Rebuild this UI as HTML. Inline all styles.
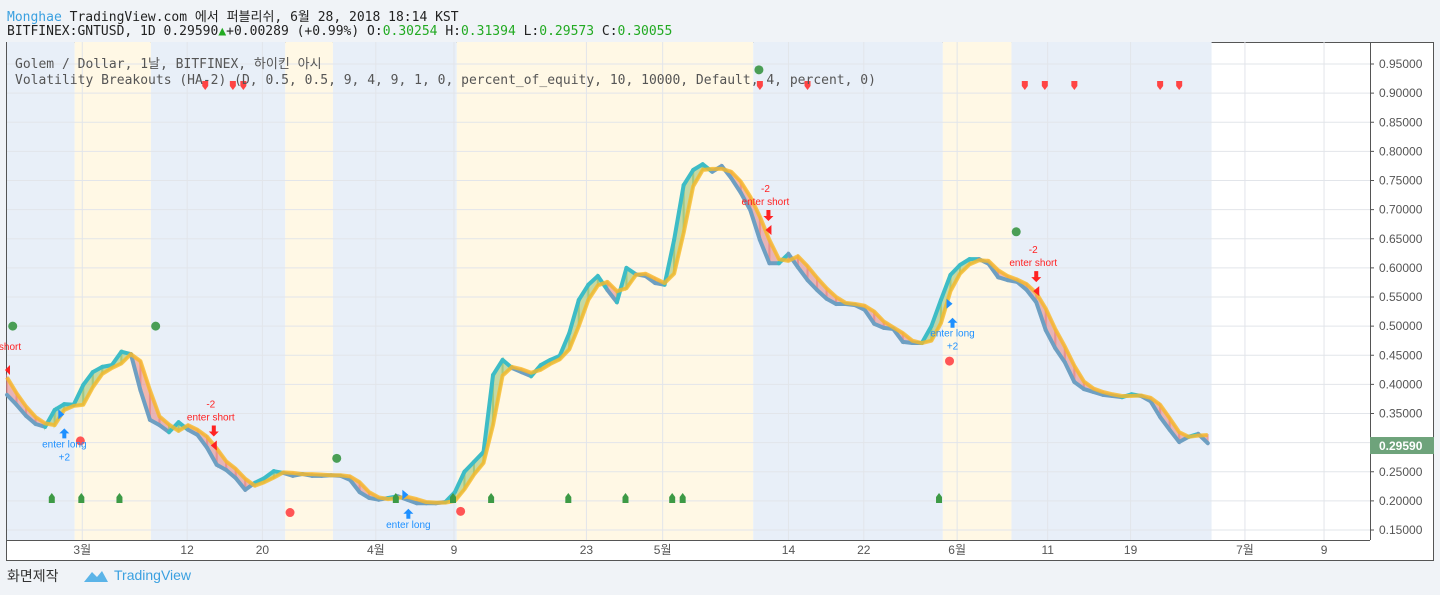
<!DOCTYPE html>
<html><head><meta charset="utf-8"><style>
html,body{margin:0;padding:0;background:#f0f3f7;width:1440px;height:595px;overflow:hidden}
.hdr{position:absolute;left:7px;font-family:"DejaVu Sans Mono","Liberation Mono","Noto Sans CJK KR",monospace;font-size:13px;color:#222;white-space:nowrap}
</style></head><body>
<div class="hdr" style="top:6px"><span style="color:#3aa0e0">Monghae</span> TradingView.com 에서 퍼블리쉬, 6월 28, 2018 18:14 KST</div>
<div class="hdr" style="top:24px">BITFINEX:GNTUSD, 1D 0.29590<span style="color:#2a2">▲</span>+0.00289 (+0.99%) O:<span style="color:#2a2">0.30254</span> H:<span style="color:#2a2">0.31394</span> L:<span style="color:#2a2">0.29573</span> C:<span style="color:#2a2">0.30055</span></div>
<svg id="c" width="1440" height="595" style="position:absolute;left:0;top:0"></svg>
<div style="position:absolute;left:7px;top:566px;font-family:'Liberation Sans','Noto Sans CJK KR',sans-serif;font-size:14px;color:#333">화면제작</div>
<svg style="position:absolute;left:83px;top:568px" width="26" height="16"><path d="M1 14 L9 4 L14 9 L19 3 L25 14 Z" fill="#5bb4e8"/></svg>
<div style="position:absolute;left:114px;top:567px;font-family:'Liberation Sans',sans-serif;font-size:14px;color:#3aa0e0">TradingView</div>
<script>
const fast=[0.382,0.365,0.346,0.332,0.327,0.356,0.366,0.365,0.399,0.421,0.430,0.433,0.456,0.452,0.390,0.339,0.330,0.318,0.335,0.322,0.313,0.291,0.262,0.253,0.239,0.219,0.231,0.239,0.251,0.248,0.243,0.246,0.243,0.243,0.244,0.243,0.236,0.215,0.205,0.202,0.205,0.208,0.202,0.196,0.196,0.196,0.198,0.215,0.250,0.267,0.284,0.416,0.442,0.428,0.421,0.414,0.433,0.442,0.449,0.488,0.545,0.571,0.586,0.562,0.541,0.600,0.589,0.586,0.574,0.571,0.648,0.742,0.768,0.778,0.765,0.775,0.754,0.729,0.699,0.648,0.608,0.608,0.624,0.601,0.579,0.562,0.547,0.538,0.538,0.536,0.528,0.504,0.497,0.495,0.473,0.471,0.471,0.500,0.545,0.588,0.605,0.615,0.615,0.607,0.584,0.579,0.576,0.562,0.541,0.493,0.462,0.438,0.404,0.392,0.387,0.382,0.380,0.378,0.383,0.380,0.371,0.344,0.322,0.301,0.310,0.315,0.299];
const slow=[0.412,0.385,0.362,0.344,0.333,0.330,0.356,0.363,0.365,0.395,0.418,0.428,0.436,0.452,0.440,0.390,0.345,0.331,0.320,0.330,0.322,0.310,0.290,0.268,0.255,0.238,0.226,0.232,0.240,0.249,0.248,0.246,0.246,0.245,0.244,0.244,0.242,0.232,0.215,0.206,0.203,0.205,0.207,0.203,0.198,0.197,0.197,0.200,0.220,0.245,0.265,0.330,0.415,0.430,0.426,0.420,0.425,0.435,0.443,0.460,0.500,0.545,0.570,0.576,0.560,0.565,0.588,0.590,0.582,0.574,0.590,0.660,0.740,0.768,0.770,0.770,0.765,0.748,0.722,0.688,0.648,0.615,0.612,0.620,0.603,0.583,0.565,0.550,0.540,0.538,0.535,0.525,0.508,0.498,0.488,0.475,0.471,0.475,0.505,0.560,0.590,0.606,0.613,0.612,0.596,0.586,0.580,0.572,0.557,0.530,0.495,0.465,0.432,0.405,0.393,0.387,0.383,0.380,0.380,0.381,0.377,0.365,0.342,0.318,0.310,0.312,0.313];
const bandStart=[-0.5,7.1,15.1,29.2,34.2,47.2,78.3,98.2,105.4];
const bandKind=['b','y','b','y','b','y','b','y','b'];
const lastBand=126.4;
const yTicks=[0.15,0.20,0.25,0.30,0.35,0.40,0.45,0.50,0.55,0.60,0.65,0.70,0.75,0.80,0.85,0.90,0.95];
const xLabels=['3월','12','20','4월','9','23','5월','14','22','6월','11','19','7월','9'];
const xLabelIdx=[7.9,18.9,26.8,38.7,46.9,60.8,68.8,82,89.9,99.7,109.2,117.9,129.9,138.2];
const greenDots=[[0.6,0.50],[15.6,0.50],[34.6,0.273],[78.9,0.94],[105.9,0.662]];
const redDots=[[7.7,0.303],[29.7,0.18],[47.6,0.182],[98.9,0.44]];
const greenFlags=[4.7,7.8,11.8,40.8,46.8,50.8,58.9,64.9,69.8,70.9,97.8];
const redFlags=[20.8,23.7,24.8,79.0,84.0,106.8,108.9,112,121,123];
const signals=[[5.7,'long',['enter long','+2']],[21.7,'short',['-2','enter short']],[41.8,'long',['enter long']],[79.9,'short',['-2','enter short']],[98.9,'long',['enter long','+2']],[108,'short',['-2','enter short']]];
const sigY=[0.345,0.295,0.207,0.665,0.535,0.56];
const X0=7,DX=9.53,L=7,R=1370,T=42,B=540;
const xs=i=>X0+i*DX;
const ys=v=>530-(v-0.15)/0.05*29.125;
const svg=document.getElementById('c');const NS='http://www.w3.org/2000/svg';
function mk(t,a,p){const e=document.createElementNS(NS,t);for(const k in a)e.setAttribute(k,a[k]);(p||svg).appendChild(e);return e;}
const fr=mk('rect',{x:6.5,y:42.5,width:1427,height:518,fill:'#fff',stroke:'#555'});

bandStart.forEach((s,k)=>{const e=k<bandStart.length-1?bandStart[k+1]:lastBand;const x1=Math.max(L,xs(s)),x2=xs(e);
const r=mk('rect',{x:x1,y:T,width:x2-x1,height:B-T,fill:bandKind[k]=='b'?'#e8eff8':'#fff8e5'});
});
yTicks.forEach(v=>{const y=ys(v);mk('line',{x1:L,x2:R,y1:y,y2:y,stroke:'#e2e5ea'});mk('line',{x1:R,x2:R+4,y1:y,y2:y,stroke:'#555'});
const t=mk('text',{x:R+9,y:y+4,'font-family':'Liberation Sans,sans-serif','font-size':12,fill:'#555'});t.textContent=v.toFixed(5);
});
xLabels.forEach((s,k)=>{const x=xs(xLabelIdx[k]);mk('line',{x1:x,x2:x,y1:T,y2:B,stroke:'#e2e5ea'});
const t=mk('text',{x:x,y:554,'text-anchor':'middle','font-family':'Liberation Sans,Noto Sans CJK KR,sans-serif','font-size':12,fill:'#555'});t.textContent=s;
});
for(let i=0;i<fast.length-1;i++){const up=(fast[i]+fast[i+1])>(slow[i]+slow[i+1]);
const p=mk('polygon',{points:`${xs(i)},${ys(fast[i])} ${xs(i+1)},${ys(fast[i+1])} ${xs(i+1)},${ys(slow[i+1])} ${xs(i)},${ys(slow[i])}`,fill:up?'#9cc47a':'#e88a8a','fill-opacity':0.6,stroke:up?'#9cc47a':'#e88a8a','stroke-opacity':0.6,'stroke-width':2});
}
for(let i=0;i<fast.length-1;i++){const up=(fast[i]+fast[i+1])>(slow[i]+slow[i+1]);
const l=mk('line',{x1:xs(i),y1:ys(fast[i]),x2:xs(i+1),y2:ys(fast[i+1]),stroke:up?'#3dbcc6':'#6e9fc2','stroke-width':4,'stroke-linecap':'round'});
}
const sl=mk('polyline',{points:slow.map((v,i)=>xs(i)+','+ys(v)).join(' '),fill:'none',stroke:'#f7b928','stroke-opacity':0.8,'stroke-width':4,'stroke-linejoin':'round'});

greenDots.forEach(d=>{const c=mk('circle',{cx:xs(d[0]),cy:ys(d[1]),r:4.5,fill:'#4a9e55'});});
redDots.forEach(d=>{const c=mk('circle',{cx:xs(d[0]),cy:ys(d[1]),r:4.5,fill:'#f55'});});
greenFlags.forEach(i=>{const x=xs(i);const p=mk('path',{d:`M${x-3},503 L${x-3},497 L${x},493 L${x+3},497 L${x+3},503Z`,fill:'#3d9a45'});});
redFlags.forEach(i=>{const x=xs(i);const p=mk('path',{d:`M${x-3},81 L${x+3},81 L${x+3},86 L${x},90 L${x-3},86Z`,fill:'#f44'});});
signals.forEach((s,k)=>{const x=xs(s[0]),y=ys(sigY[k]);const long=s[1]=='long';const col=long?'#1e90ff':'#f22';
const g=mk('g',{});
if(long){mk('path',{d:`M${x-3},${y-7} L${x+3},${y-2} L${x-3},${y+3}Z`,fill:col},g);
const ay=y+12;mk('path',{d:`M${x+3},${ay} l5,5 h-3 v5 h-4 v-5 h-3Z`,fill:col},g);
s[2].forEach((t,j)=>{const e=mk('text',{x:x+3,y:ay+19+j*13,'text-anchor':'middle','font-family':'Liberation Sans,sans-serif','font-size':10,fill:col},g);e.textContent=t;});}
else{mk('path',{d:`M${x+3},${y-5} L${x-3},${y} L${x+3},${y+5}Z`,fill:col},g);
const ay=y-14;mk('path',{d:`M${x-5},${ay} l5,5 l5,-5 h-3 v-6 h-4 v6Z`,fill:col},g);
s[2].forEach((t,j)=>{const e=mk('text',{x:x-3,y:ay-13-(s[2].length-1-j)*13+2,'text-anchor':'middle','font-family':'Liberation Sans,sans-serif','font-size':10,fill:col},g);e.textContent=t;});}});
const ps=mk('text',{x:10,y:350,'font-family':'Liberation Sans,sans-serif','font-size':10,fill:'#f22','text-anchor':'middle'});ps.textContent='short';

mk('path',{d:`M10,365 L5,370 L10,375Z`,fill:'#f22'});
mk('line',{x1:R+0.5,x2:R+0.5,y1:T,y2:B,stroke:'#555'});mk('line',{x1:L,x2:R,y1:B+0.5,y2:B+0.5,stroke:'#555'});
const lastV=0.2959;const by=ys(lastV);
const pb=mk('rect',{x:R,y:by-8,width:64,height:17,fill:'#6ea37b'});
const pt=mk('text',{x:R+9,y:by+5,'font-family':'Liberation Sans,sans-serif','font-size':12,'font-weight':'bold',fill:'#fff'});pt.textContent=lastV.toFixed(5);
const lg1=mk('text',{x:15,y:68,'font-family':'DejaVu Sans Mono,Noto Sans CJK KR,monospace','font-size':13,fill:'#555'});lg1.textContent='Golem / Dollar, 1날, BITFINEX, 하이킨 아시';

const lg2=mk('text',{x:15,y:84,'font-family':'DejaVu Sans Mono,monospace','font-size':13,fill:'#555'});lg2.textContent='Volatility Breakouts (HA-2) (D, 0.5, 0.5, 9, 4, 9, 1, 0, percent_of_equity, 10, 10000, Default, 4, percent, 0)';

</script>
</body></html>
